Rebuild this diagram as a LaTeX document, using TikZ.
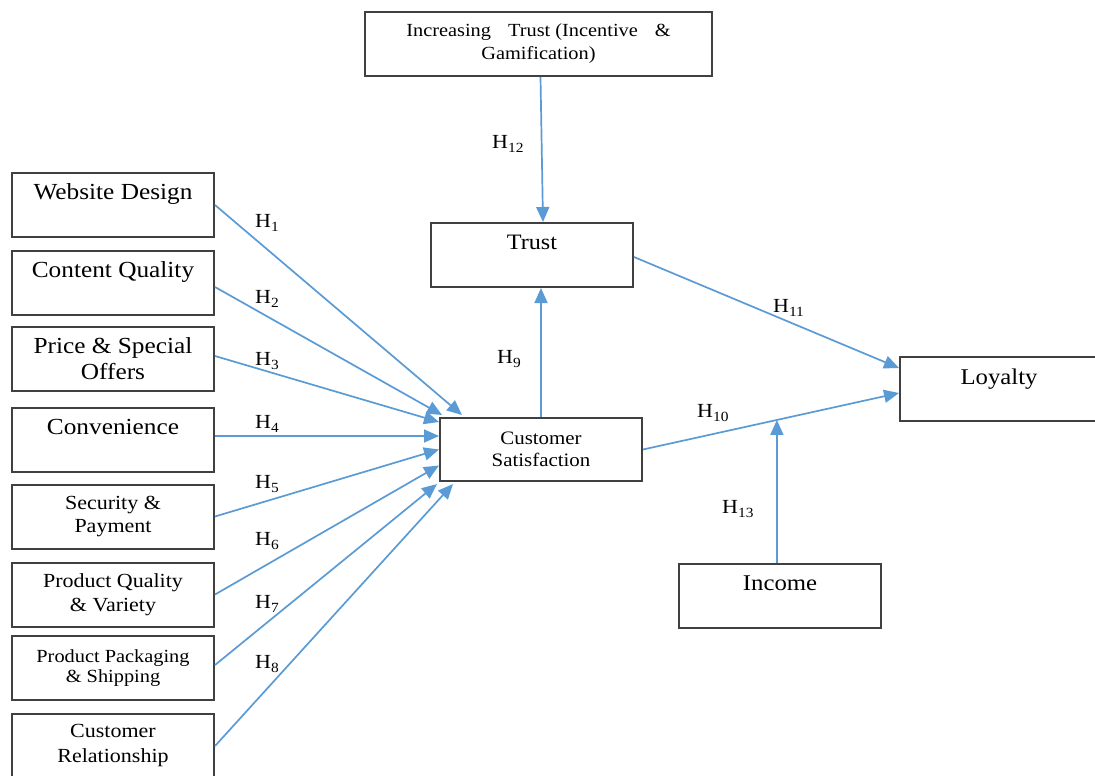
\documentclass[tikz,border=0pt]{standalone}
\usepackage{fontspec}
\setmainfont{Liberation Serif}[FakeStretch=1.1]
\usetikzlibrary{arrows.meta,calc}
\definecolor{boxline}{RGB}{64,64,64}
\definecolor{arrowblue}{RGB}{91,155,213}
\newcommand{\setfs}[2]{\fontsize{#1}{#2}\selectfont}
\newcommand{\hlab}[1]{H\raisebox{-4pt}{\fontsize{14}{14}\selectfont #1}}
\begin{document}
\begin{tikzpicture}[x=1pt,y=-1pt,
  box/.style={draw=boxline,line width=2pt,minimum height=64pt,inner sep=0pt,align=center,text=black},
  arr/.style={draw=arrowblue,line width=1.7pt,-{Triangle[length=15pt,width=13pt]}},
  hl/.style={anchor=base west,inner sep=0pt,font=\setfs{20}{20}}]
\useasboundingbox (0,0) rectangle (1095,776);
\clip (0,0) rectangle (1095,776);
\fill[white] (0,0) rectangle (1095,776);

% left column
\node[box,minimum width=202pt,font=\setfs{23}{26}] (wd) at (113,205) {Website Design\\\mbox{}};
\node[box,minimum width=202pt,font=\setfs{23}{26}] (cq) at (113,282.5) {Content Quality\\\mbox{}};
\node[box,minimum width=202pt,font=\setfs{23}{26}] (ps) at (113,358.5) {Price \& Special\\Offers};
\node[box,minimum width=202pt,font=\setfs{23}{26}] (cv) at (113,439.5) {Convenience\\\mbox{}};
\node[box,minimum width=202pt,font=\setfs{20}{23}] (sp) at (113,516.5) {Security \&\\Payment};
\node[box,minimum width=202pt,font=\setfs{20}{23.5}] (pq) at (113,594.5) {Product Quality\\\& Variety};
\node[box,minimum width=202pt,font=\setfs{18.5}{20}] (pp) at (113,668) {Product Packaging\\\& Shipping};
\node[box,minimum width=202pt,font=\setfs{20}{25}] (cr) at (113,746) {Customer\\Relationship};

% centre and right
\node[box,minimum width=202pt,minimum height=63pt,font=\setfs{19}{22}] (cs) at (541,449.5) {Customer\\Satisfaction};
\node[box,minimum width=202pt,font=\setfs{22}{25}] (tr) at (532,255) {Trust\\\mbox{}};
\node[box,minimum width=347pt,font=\setfs{18.5}{23}] (it) at (538.5,44) {Increasing\hspace{17pt}Trust (Incentive\hspace{17pt}\&\\Gamification)};
\node[box,minimum width=198pt,font=\setfs{22.5}{25}] (ly) at (999,389) {Loyalty\\\mbox{}};
\node[box,minimum width=202pt,font=\setfs{22.5}{25}] (in) at (780,595.5) {Income\\\mbox{}};

% arrows into customer satisfaction
\draw[arr] (wd.east) -- ($(cs.north west)+(23,-2)$);
\draw[arr] ($(cq.east)+(0,4.5)$) -- ($(cs.north west)+(3,-2)$);
\draw[arr] ($(ps.east)+(0,-2.5)$) -- ($(cs.north west)+(0,5)$);
\draw[arr] ($(cv.east)+(0,-3.5)$) -- ($(cs.west)+(0,-13.5)$);
\draw[arr] (sp.east) -- (cs.west);
\draw[arr] (pq.east) -- ($(cs.west)+(0,16)$);
\draw[arr] ($(pp.east)+(0,-3)$) -- ($(cs.south west)+(-2,2)$);
\draw[arr] (cr.east) -- ($(cs.south west)+(14,2)$);

% other arrows
\draw[arr] (cs.north) -- (cs.north |- tr.south);
\draw[arr] ($(it.south)+(2,0)$) -- ($(tr.north)+(11,0)$);
\draw[arr] ($(tr.east)+(0,2)$) -- ($(ly.north west)+(0,12)$);
\draw[arr] (cs.east) -- ($(ly.north west)+(0,37)$) coordinate[pos=0.523] (m);
\draw[arr] (m |- in.north) -- (m);

% hypothesis labels
\node[hl] (h1) at (255,227) {\hlab{1}};
\node[hl] (h2) at (255,303) {\hlab{2}};
\node[hl] (h3) at (255,365) {\hlab{3}};
\node[hl] (h4) at (255,428) {\hlab{4}};
\node[hl] (h5) at (255,488) {\hlab{5}};
\node[hl] (h6) at (255,545) {\hlab{6}};
\node[hl] (h7) at (255,608) {\hlab{7}};
\node[hl] (h8) at (255,668) {\hlab{8}};
\node[hl] (h9) at (497,363) {\hlab{9}};
\node[hl] (h10) at (697,417) {\hlab{10}};
\node[hl] (h11) at (773,312) {\hlab{11}};
\node[hl] (h12) at (492,148) {\hlab{12}};
\node[hl] (h13) at (722,513) {\hlab{13}};
\end{tikzpicture}
\end{document}
